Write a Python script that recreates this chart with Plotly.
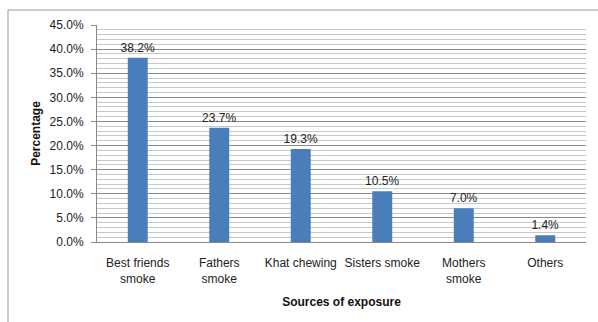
import plotly.graph_objects as go

categories = ["Best friends<br>smoke", "Fathers<br>smoke", "Khat chewing", "Sisters smoke", "Mothers<br>smoke", "Others"]
values = [0.382, 0.237, 0.193, 0.105, 0.070, 0.014]

FONT = "Liberation Sans, Arial, sans-serif"

fig = go.Figure(go.Bar(
    x=categories, y=values,
    marker=dict(color="#4A7EBB", line=dict(width=0)),
    texttemplate="%{y:.1%}", textposition="outside",
    textfont=dict(family=FONT, size=12, color="#222"),
    constraintext="none",
    cliponaxis=False, width=0.245,
))

L, R, T, B = 97, 12, 25, 80
W, H = 598, 322
pw, ph = W - L - R, H - T - B

fig.update_layout(
    width=W, height=H,
    margin=dict(l=L, r=R, t=T, b=B),
    paper_bgcolor="white", plot_bgcolor="white",
    font=dict(family=FONT, size=12, color="#222"),
    showlegend=False,
    xaxis=dict(
        showline=True, linecolor="#888", linewidth=1,
        ticks="", tickfont=dict(size=12, color="#222"),
        ticklabelstandoff=10,
        title=dict(text="<b>Sources of exposure</b>", font=dict(size=12, color="#111"), standoff=12),
    ),
    yaxis=dict(
        range=[0, 0.45], dtick=0.05, tickformat=".1%",
        showline=True, linecolor="#888", linewidth=1,
        ticks="outside", ticklen=5, tickcolor="#888",
        ticklabelstandoff=5,
        showgrid=True, gridcolor="#8c8c8c", gridwidth=1,
        minor=dict(dtick=0.01, showgrid=True, gridcolor="#c8c8c8", gridwidth=1, ticks=""),
        tickfont=dict(size=12, color="#222"),
        zeroline=False,
        title=dict(text="<b>Percentage</b>", font=dict(size=12, color="#111"), standoff=6),
    ),
    shapes=[dict(
        type="rect", xref="paper", yref="paper",
        x0=(8 - L) / pw, x1=(W + 5 - L) / pw,
        y0=-(H + 5 - T - ph) / ph, y1=(H - B - 10) / ph,
        line=dict(color="#999", width=1), fillcolor="rgba(0,0,0,0)", layer="below",
    )],
)

fig.write_html("out.html")
